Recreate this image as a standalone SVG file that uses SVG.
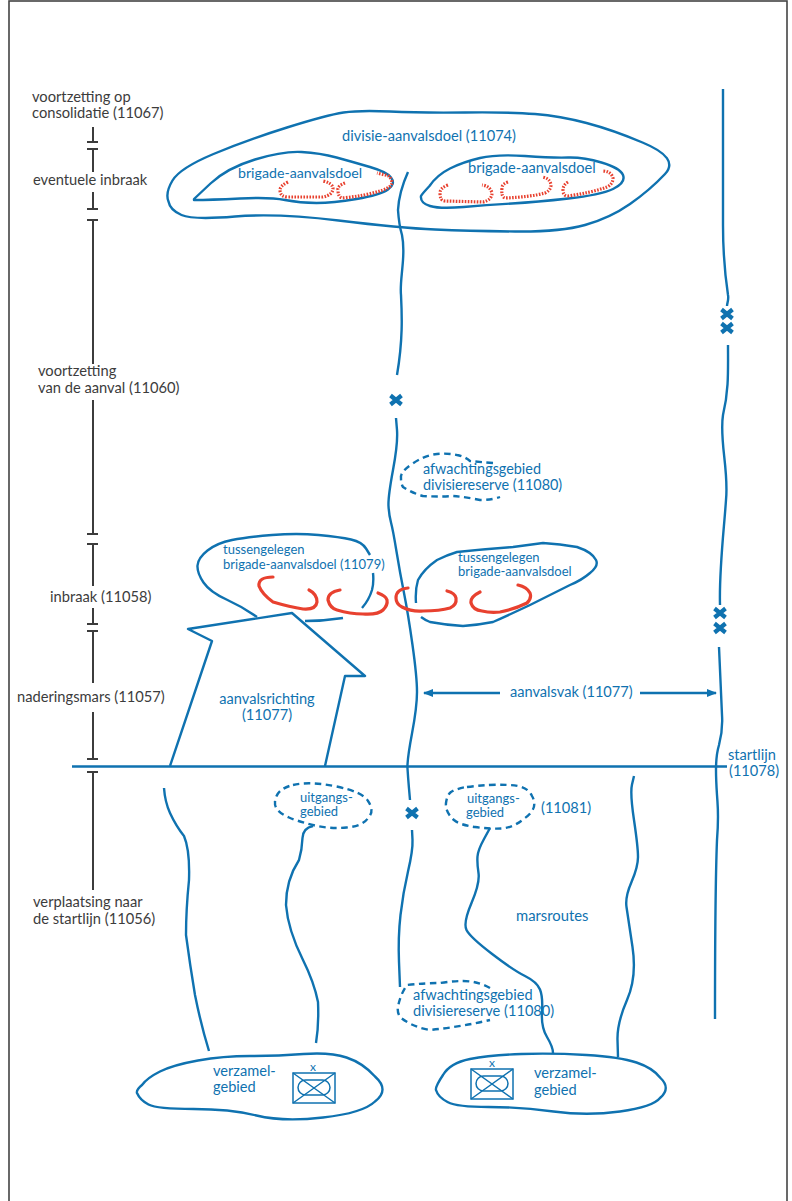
<svg xmlns="http://www.w3.org/2000/svg" width="792" height="1201" viewBox="0 0 792 1201">
<style>
text{font-family:"Lato","Liberation Sans",sans-serif;font-size:14.600px}
.b{fill:#0f72b0}
.k{fill:#3c3c3c;font-size:14.700px}
.sm{font-size:13px}
.us{font-size:13px}
.l{fill:none;stroke:#0f72b0;stroke-width:2.400;stroke-linecap:butt;stroke-linejoin:round}
.d{stroke-dasharray:6.500 4.500}
.r{fill:none;stroke:#e8412f;stroke-width:3.200;stroke-linecap:round}
.rd{fill:none;stroke:#e8412f;stroke-width:3.200;stroke-dasharray:1.600 1.400}
.t{fill:none;stroke:#3c3c3c;stroke-width:2}
.x{fill:none;stroke:#0f72b0;stroke-width:4.200}
.s{fill:none;stroke:#0f72b0;stroke-width:1.500}
</style>
<defs>
<marker id="a" markerWidth="10" markerHeight="8" refX="9" refY="4" orient="auto-start-reverse" markerUnits="userSpaceOnUse"><path d="M0 0L10 4L0 8Z" fill="#0f72b0"/></marker>
<g id="xx"><path class="x" d="M-5.500 -4.500L5.500 4.500M5.500 -4.500L-5.500 4.500"/></g>
<g id="sym"><rect class="s" x="0" y="0" width="42" height="30"/><path class="s" d="M0 0L42 30M42 0L0 30"/><rect class="s" x="5" y="7" width="32" height="15" rx="7.500"/></g>
</defs>
<rect id="frame" x="9" y="1" width="778" height="1210" fill="none" stroke="#444" stroke-width="1.600"/>
<g id="timeline">
<path class="t" d="M93 127V142M87 142H98M87 149H98M93 149V172M93 192V209M87 209H98M87 220H98M93 220V364M93 400V534M87 534H98M87 544H98M93 544V586M93 608V624M87 624H98M87 631H98M93 631V683M93 712V759M87 759H98M87 772H98M93 772V890"/>
<text class="k" x="32" y="102">voortzetting op</text><text class="k" x="32" y="118">consolidatie (11067)</text>
<text class="k" x="33" y="185">eventuele inbraak</text>
<text class="k" x="38" y="376">voortzetting</text><text class="k" x="38" y="393">van de aanval (11060)</text>
<text class="k" x="50" y="602">inbraak (11058)</text>
<text class="k" x="17" y="702">naderingsmars (11057)</text>
<text class="k" x="33" y="907">verplaatsing naar</text><text class="k" x="33" y="924">de startlijn (11056)</text>
</g>
<g id="connectors">
<path class="l" d="M72 766.500H727"/>
<path class="l" d="M408 172Q399 192 398 210Q399 225 402 235Q404 245 403 260C402 275 400 285 401 295C402 315 403 340 397 375"/>
<path class="l" d="M396 418L397 430Q398 443 393 470Q388 497 388.500 506Q389 515 391 522.500Q393 530 396.500 551.500Q400 573 404 593Q408 613 412.500 645Q417 677 417 692Q417 707 412 733.500Q407 760 407.500 768.500Q408 777 409 788.500L410 800"/>
<path class="l" d="M412 830L412.500 840Q413 850 408 871.500Q403 893 400.500 915Q398 937 399 962L400 987"/>
<path class="l" d="M723 89V225C723 250 725 275 728 295C729 300 727 303 727 306"/>
<path class="l" d="M728 345C728 370 729 390 723 415C719 440 729 470 726 500C724 530 719 570 720 605"/>
<path class="l" d="M719 647L722 715Q723 730 719 745Q716 755 716 770Q716 780 717 795C718 810 719 815 717 840C715 890 715 960 715 1019"/>
<path class="l" d="M164 788Q165 802 170 813Q176 826 184 836Q190 850 189 880Q186 910 186 935Q190 965 195 995Q201 1025 209 1051"/>
<path class="l" d="M313 826Q303 828 302.500 838Q302 850 299 860Q286 880 286 905Q288 930 303 960Q314 982 318 1002Q319 1025 316 1043"/>
<path class="l" d="M490 828L484 839Q478 850 477.500 856.500Q477 863 478.500 873Q480 883 471.500 903Q463 923 466.500 930Q470 937 491.500 953.500Q513 970 525 976Q537 982 540 989.500Q543 997 542 1012Q541 1027 547 1037Q553 1047 553 1053"/>
<path class="l" d="M634 776L632 784.500Q630 793 634 820Q638 847 638 857Q638 867 631.500 882Q625 897 626.500 907Q628 917 632.500 947Q637 977 627 1000Q617 1023 617.500 1040L618 1057"/>
<path class="l" d="M424 693H500M640 693H716" marker-start="url(#a)" marker-end="url(#a)"/>
<use href="#xx" x="396" y="400"/><use href="#xx" x="412" y="813"/><use href="#xx" x="727" y="314"/><use href="#xx" x="727" y="328"/><use href="#xx" x="720" y="613"/><use href="#xx" x="720" y="628"/>
</g>
<g id="divisie-aanvalsdoel">
<path class="l" d="M172.500 180.500Q180 168 213.500 154Q247 140 287 127.500Q327 115 343.500 112.500Q360 110 390 111.500Q420 113 465 112.500Q510 112 535 114Q560 116 586.500 123Q613 130 642.500 142.500Q680 158 665 174Q650 190 630 204Q610 218 585 225Q560 232 515 231.500Q470 231 435 229.500Q400 228 338.500 220.500Q277 213 235 216.500Q193 220 181.500 215Q170 210 168.500 201.500Q165 193 172.500 180.500Z"/>
<text class="b" x="342" y="141">divisie-aanvalsdoel (11074)</text>
</g>
<g id="brigade-links">
<path class="l" d="M194 199L210.500 183.500Q227 168 255 159.500Q283 151 301.500 152Q320 153 336.500 157.500Q353 162 370 167Q387 172 391 177.500Q396 184 388 189.500Q380 195 356.500 199Q333 203 316.500 203Q300 203 285 200Q270 197 240 198.500Q210 200 194 200Z"/>
<text class="b" x="238" y="178" style="font-size:14.200px">brigade-aanvalsdoel</text>
<path class="rd" d="M288 182Q280 186 280 190Q280 197 288 197L323 197Q333 195 333 188Q332 183 323 181"/>
<path class="rd" d="M345 183Q337 186 338 190Q338 197 342 198Q365 196 383 190Q392 187 392 182Q390 175 385 175L377 173"/>
</g>
<g id="brigade-rechts">
<path class="l" d="M429.500 186Q437 175 450 168.500Q463 162 480 158Q497 154 525 156Q553 158 568 157.500Q583 157 601.500 162.500Q620 168 623 175Q626 183 613 189Q600 195 568.500 198.500Q537 202 512 203.500Q487 205 463.500 207Q440 209 430 206Q420 203 421 196Q422 194 429.500 186Z"/>
<text class="b" x="468" y="173">brigade-aanvalsdoel</text>
<path class="rd" d="M448 185Q440 188 440 193Q440 201 445 201L483 202Q492 200 492 193Q490 186 482 185"/>
<path class="rd" d="M508 182Q502 184 502 188Q501 197 505 198Q530 197 545 193Q551 190 551 185Q550 178 542 177"/>
<path class="rd" d="M568 182Q563 185 563 190Q563 196 568 196Q590 193 607 187Q613 184 613 178Q611 171 602 171"/>
</g>
<g id="afwachting-boven">
<path class="l d" d="M493 463Q480 462 470 461Q464 456 457 455Q447 453 437 454Q425 455 412 464Q400 472 401 478Q401 484 403 487Q412 493 423 496Q438 497 453 496Q466 497 480 500Q492 500 500 497"/>
<text class="b" x="423" y="474" style="font-size:14.400px">afwachtingsgebied</text><text class="b" x="423" y="490" style="font-size:14.400px">divisiereserve (11080)</text>
</g>
<g id="tussen-links">
<path class="l" d="M257 617Q243 607 226.500 599.500Q210 592 203.500 582.500Q197 573 197.500 565.500Q198 558 207.500 550.500Q217 543 232 540Q247 537 272 535Q297 533 318.500 535Q340 537 351 539.500Q362 542 366 548.500L370 555M373 573Q374 582 372 590Q369 600 362 608"/>
<path class="l" d="M305 621C320 621 330 620 343 618"/>
<text class="b sm" x="223" y="554">tussengelegen</text><text class="b sm" x="223" y="569">brigade-aanvalsdoel (11079)</text>
<path class="r" d="M273 577Q258 577 259 586Q262 594 273 602Q290 607 303 609Q316 610 317 602Q317 594 309 590"/>
<path class="r" d="M340 590Q328 592 328 600Q330 608 337 610Q350 614 363 614Q378 615 383 610Q388 605 387 600Q386 596 378 593"/>
<path class="r" d="M408 588Q396 589 396 598Q396 604 402 607Q412 612 423 611Q440 611 450 608Q457 605 456 598Q455 593 447 591"/>
<path class="r" d="M480 592Q470 597 471 603Q473 610 482 611Q490 613 500 612Q515 609 527 603Q532 598 530 593Q527 587 518 585"/>
</g>
<g id="tussen-rechts">
<path class="l" d="M416 603Q415 590 418 580Q424 569 437 560Q447 555 457 552Q485 549 513 547Q528 545 543 543Q560 544 577 547Q592 552 596 560Q599 566 590 573Q582 580 570 585Q550 595 530 605Q511 614 493 622Q478 625 463 626Q446 625 430 622Q425 620 421 617"/>
<text class="b sm" x="458" y="562">tussengelegen</text><text class="b sm" x="458" y="576">brigade-aanvalsdoel</text>
</g>
<g id="aanvalsrichting">
<path class="l" d="M170 766L212 641L188 629L292 613L365 676H345L325 766"/>
<text class="b" x="267" y="704" text-anchor="middle">aanvalsrichting</text><text class="b" x="267" y="720" text-anchor="middle">(11077)</text>
</g>
<g id="aanvalsvak"><text class="b" x="510" y="697">aanvalsvak (11077)</text></g>
<g id="startlijn"><text class="b" x="728" y="760">startlijn</text><text class="b" x="729" y="776">(11078)</text></g>
<g id="uitgang-links">
<path class="l d" d="M293 785Q310 781 336.500 786.500Q363 792 368 801Q375 811 368 818Q363 826 346.500 827.500Q330 829 315 825.500Q300 822 289 817.500Q274 811 275 802Q276 789 293 785Z"/>
<text class="b us" x="300" y="802">uitgangs-</text><text class="b us" x="300" y="816">gebied</text>
</g>
<g id="uitgang-rechts">
<path class="l d" d="M467 787Q490 784 508 785Q527 785 532 796Q539 808 525 818Q513 828 501 828.500Q490 829 475 827Q460 825 454 820Q445 812 446 803Q447 795 451 792Q458 788 467 787Z"/>
<text class="b us" x="467" y="803">uitgangs-</text><text class="b us" x="466" y="817">gebied</text>
<text class="b" x="541" y="813">(11081)</text>
</g>
<g id="marsroutes"><text class="b" x="516" y="921" style="font-size:14.800px">marsroutes</text></g>
<g id="afwachting-onder">
<path class="l d" d="M490 988Q478 981 463 981Q452 981 440 983Q425 983 407 985Q400 995 398 1007Q397 1012 400 1017Q412 1027 430 1030Q460 1027 490 1020"/>
<text class="b" x="413" y="1000">afwachtingsgebied</text><text class="b" x="413" y="1016">divisiereserve (11080)</text>
</g>
<g id="verzamel-links">
<path class="l" d="M142 1085Q147 1078 160 1071.500Q173 1065 198 1060.500Q223 1056 250 1056Q277 1056 303.500 1054Q330 1052 346.500 1057.500Q363 1063 375 1076.500Q390 1090 375 1101.500Q363 1113 323 1117.500Q283 1122 256.500 1115.500Q230 1109 193.500 1109Q157 1109 148.500 1104.500Q140 1100 137 1093Q136 1090 142 1085Z"/>
<text class="b" x="213" y="1076">verzamel-</text><text class="b" x="213" y="1092">gebied</text>
<use href="#sym" x="293" y="1073"/><text class="b" x="313" y="1071" text-anchor="middle" style="font-size:12px">x</text>
</g>
<g id="verzamel-rechts">
<path class="l" d="M443 1075Q450 1063 470 1059Q490 1055 521.500 1054Q553 1053 586.500 1055Q620 1057 636.500 1062.500Q653 1068 660.500 1078Q671 1088 660.500 1097.500Q653 1107 620 1111.500Q587 1116 553.500 1111.500Q520 1107 488.500 1107Q457 1107 447.500 1102Q438 1097 436 1090Q435 1087 443 1075Z"/>
<text class="b" x="534" y="1078">verzamel-</text><text class="b" x="534" y="1095">gebied</text>
<use href="#sym" x="471" y="1069"/><text class="b" x="492" y="1067" text-anchor="middle" style="font-size:12px">x</text>
</g>
</svg>
